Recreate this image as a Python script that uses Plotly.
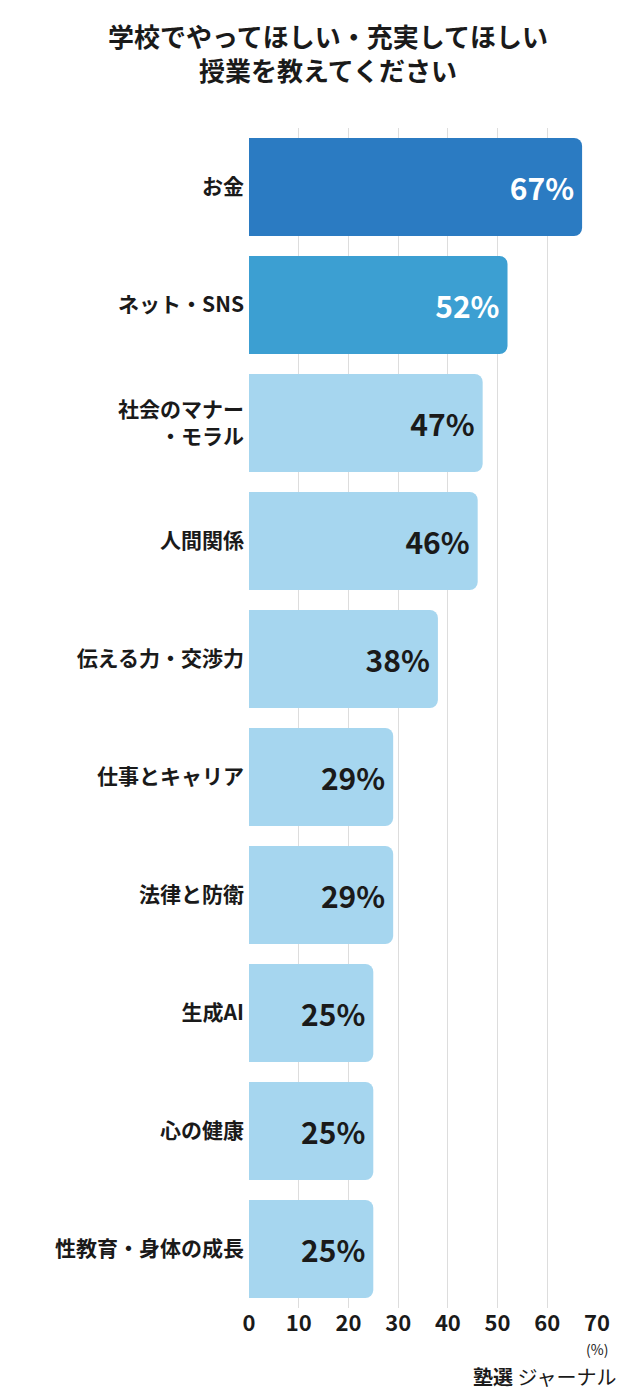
import plotly.graph_objects as go

categories = ["お金", "ネット・SNS", "社会のマナー<br>・モラル", "人間関係", "伝える力・交渉力",
              "仕事とキャリア", "法律と防衛", "生成AI", "心の健康", "性教育・身体の成長"]
values = [67, 52, 47, 46, 38, 29, 29, 25, 25, 25]
bar_colors = ["#2b7bc2", "#3c9fd2"] + ["#a6d6ef"] * 8
text_colors = ["white", "white"] + ["#1a1a1a"] * 8
tick_vals = [0, 10, 20, 30, 40, 50, 60, 70]

FONT = "Noto Sans CJK JP"

fig = go.Figure(go.Bar(
    x=values, y=categories, orientation="h",
    marker=dict(color=bar_colors, line=dict(width=0)),
    text=[f"{v}%" for v in values], textposition="inside",
    insidetextanchor="end", textangle=0,
    textfont=dict(family=FONT, size=30, color=text_colors, weight="bold"),
    width=0.83,
))

fig.update_layout(
    width=640, height=1400,
    paper_bgcolor="white", plot_bgcolor="white",
    margin=dict(l=241, r=51, t=120, b=100),
    barcornerradius=8,
    showlegend=False,
    title=dict(text="<b>学校でやってほしい・充実してほしい<br>授業を教えてください</b>",
               x=0.5, xanchor="center", y=0.972, yanchor="top",
               font=dict(family=FONT, size=26, color="#1a1a1a")),
    xaxis=dict(range=[0, 70], tickvals=tick_vals, showgrid=True, gridcolor="#dddddd",
               gridwidth=1, zeroline=False, showline=False, automargin=False,
               tickfont=dict(family=FONT, size=22, color="#1a1a1a", weight="bold")),
    yaxis=dict(autorange="reversed", showgrid=False, ticks="", ticklabelstandoff=4,
               automargin=False,
               tickfont=dict(family=FONT, size=21, color="#1a1a1a", weight="bold")),
    annotations=[
        dict(text="(%)", x=70, y=-0.045, xref="x", yref="paper", showarrow=False,
             font=dict(family=FONT, size=14, color="#1a1a1a")),
        dict(text="<b>塾選</b> ジャーナル", x=1.06, y=-0.072, xref="paper", yref="paper",
             xanchor="right", showarrow=False,
             font=dict(family=FONT, size=20, color="#1a1a1a")),
    ],
)

fig.write_html("out.html")
